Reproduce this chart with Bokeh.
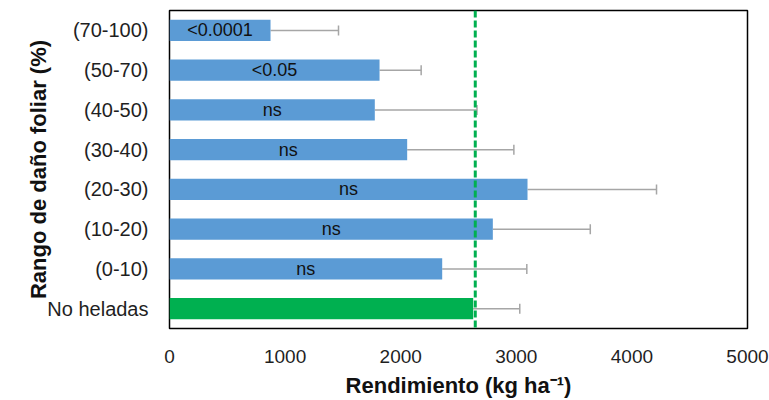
from bokeh.plotting import figure
from bokeh.models import ColumnDataSource, Whisker, TeeHead, Span, FixedTicker, Range1d, FactorRange
from bokeh.core.properties import value
from bokeh.embed import file_html
from bokeh.resources import INLINE

# Data (bottom to top)
categories = ["No heladas", "(0-10)", "(10-20)", "(20-30)", "(30-40)", "(40-50)", "(50-70)", "(70-100)"]
yields = [2627, 2359, 2797, 3097, 2056, 1776, 1817, 874]
errors = [403, 732, 843, 1116, 923, 884, 360, 588]
sig_labels = ["", "ns", "ns", "ns", "ns", "ns", "<0.05", "<0.0001"]
bar_colors = ["#00b050", "#5b9bd5", "#5b9bd5", "#5b9bd5", "#5b9bd5", "#5b9bd5", "#5b9bd5", "#5b9bd5"]
reference_yield = 2645
x_ticks = [0, 1000, 2000, 3000, 4000, 5000]

FONT = "Liberation Sans"

src = ColumnDataSource(dict(
    cat=categories,
    val=yields,
    upper=[v + e for v, e in zip(yields, errors)],
    mid=[v / 2 for v in yields],
    lab=sig_labels,
    color=bar_colors,
))

p = figure(width=769, height=400, y_range=FactorRange(factors=categories),
           x_range=Range1d(0, 5000), output_backend="svg", toolbar_location=None,
           min_border_left=169, min_border_right=22, min_border_top=10, min_border_bottom=71)

p.hbar(y="cat", right="val", left=0, height=0.53, color="color", line_color=None, source=src)

whisker = Whisker(source=src, base="cat", lower="val", upper="upper", dimension="width",
                  line_color="#a6a6a6", line_width=1.5, lower_head=None,
                  upper_head=TeeHead(size=10, line_color="#a6a6a6", line_width=1.5))
p.add_layout(whisker)

p.text(x="mid", y="cat", text="lab", source=src, text_align="center", text_baseline="middle",
       text_font=value(FONT), text_font_size="18px", text_color="#111111")

p.add_layout(Span(location=reference_yield, dimension="height", line_color="#00b050",
                  line_width=3, line_dash="7 3"))

p.xgrid.visible = False
p.ygrid.visible = False
p.outline_line_color = "black"
p.outline_line_width = 1.5

p.xaxis.ticker = FixedTicker(ticks=x_ticks)
for ax in (p.xaxis, p.yaxis):
    ax.axis_line_color = None
    ax.major_tick_line_color = None
    ax.minor_tick_line_color = None
    ax.major_label_text_font = FONT
    ax.major_label_text_color = "#1f1f1f"
    ax.axis_label_text_font = FONT
    ax.axis_label_text_font_style = "bold"
    ax.axis_label_text_font_size = "22px"
    ax.axis_label_text_color = "#111111"

p.xaxis.major_label_text_font_size = "19px"
p.xaxis.major_label_standoff = 15
p.xaxis.axis_label = "Rendimiento (kg ha\u207b\u00b9)"
p.xaxis.axis_label_standoff = 7

p.yaxis.major_label_text_font_size = "20px"
p.yaxis.major_label_standoff = 15
p.yaxis.axis_label = "Rango de daño foliar (%)"
p.yaxis.axis_label_standoff = -7

open("out.html", "w").write(file_html(p, INLINE))
